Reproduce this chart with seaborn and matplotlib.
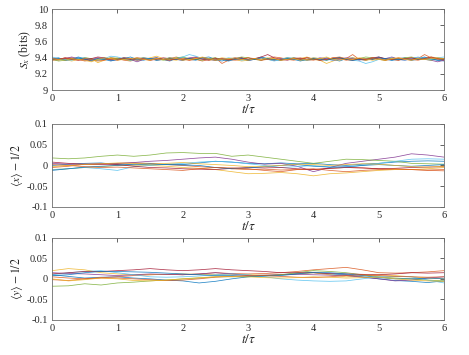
import numpy as np
import pandas as pd
import matplotlib
matplotlib.use('Agg')
import matplotlib.pyplot as plt
import seaborn as sns

# MATLAB default line colours (10 runs, order cycles)
colors = ['#0072BD', '#D95319', '#EDB120', '#7E2F8E', '#77AC30',
          '#4DBEEE', '#A2142F', '#0072BD', '#D95319', '#EDB120']

# entropy S_x (bits), t step 0.1
s_runs = [
    [9.39, 9.40, 9.37, 9.38, 9.41, 9.39, 9.36, 9.38, 9.40, 9.37, 9.38, 9.39, 9.41, 9.38, 9.37, 9.39, 9.40, 9.38, 9.36, 9.39, 9.40, 9.38, 9.37, 9.40, 9.41, 9.38, 9.36, 9.39, 9.38, 9.40, 9.37, 9.38, 9.41, 9.39, 9.37, 9.38, 9.40, 9.39, 9.37, 9.38, 9.39, 9.37, 9.40, 9.38, 9.36, 9.39, 9.40, 9.38, 9.37, 9.39, 9.41, 9.38, 9.37, 9.39, 9.40, 9.38, 9.39, 9.41, 9.38, 9.37, 9.36],
    [9.38, 9.37, 9.39, 9.40, 9.38, 9.36, 9.37, 9.39, 9.38, 9.40, 9.39, 9.37, 9.36, 9.38, 9.40, 9.39, 9.37, 9.38, 9.39, 9.41, 9.39, 9.37, 9.38, 9.36, 9.38, 9.40, 9.33, 9.37, 9.39, 9.38, 9.40, 9.38, 9.37, 9.39, 9.41, 9.40, 9.38, 9.37, 9.39, 9.40, 9.38, 9.37, 9.38, 9.40, 9.41, 9.39, 9.44, 9.38, 9.37, 9.39, 9.38, 9.37, 9.40, 9.39, 9.38, 9.37, 9.39, 9.44, 9.40, 9.38, 9.37],
    [9.37, 9.39, 9.38, 9.36, 9.38, 9.40, 9.39, 9.34, 9.37, 9.39, 9.40, 9.38, 9.37, 9.39, 9.38, 9.40, 9.42, 9.39, 9.38, 9.37, 9.39, 9.38, 9.40, 9.39, 9.37, 9.38, 9.40, 9.39, 9.38, 9.36, 9.37, 9.39, 9.40, 9.38, 9.37, 9.39, 9.40, 9.38, 9.39, 9.41, 9.38, 9.37, 9.33, 9.36, 9.39, 9.38, 9.40, 9.39, 9.37, 9.38, 9.40, 9.39, 9.38, 9.37, 9.39, 9.40, 9.38, 9.39, 9.41, 9.40, 9.38],
    [9.40, 9.38, 9.39, 9.41, 9.39, 9.37, 9.38, 9.40, 9.39, 9.37, 9.38, 9.40, 9.38, 9.35, 9.38, 9.39, 9.40, 9.38, 9.37, 9.39, 9.38, 9.40, 9.41, 9.39, 9.38, 9.37, 9.39, 9.38, 9.40, 9.39, 9.37, 9.38, 9.40, 9.38, 9.37, 9.39, 9.38, 9.40, 9.39, 9.37, 9.38, 9.40, 9.39, 9.37, 9.38, 9.40, 9.39, 9.37, 9.39, 9.38, 9.40, 9.39, 9.41, 9.38, 9.37, 9.39, 9.40, 9.38, 9.37, 9.35, 9.37],
    [9.38, 9.36, 9.37, 9.39, 9.38, 9.40, 9.39, 9.37, 9.38, 9.40, 9.39, 9.38, 9.37, 9.39, 9.40, 9.38, 9.39, 9.37, 9.38, 9.40, 9.41, 9.39, 9.38, 9.37, 9.39, 9.40, 9.38, 9.37, 9.39, 9.41, 9.40, 9.38, 9.37, 9.39, 9.38, 9.37, 9.39, 9.40, 9.38, 9.37, 9.38, 9.39, 9.37, 9.39, 9.40, 9.38, 9.37, 9.39, 9.41, 9.40, 9.38, 9.37, 9.39, 9.38, 9.40, 9.41, 9.39, 9.38, 9.37, 9.39, 9.38],
    [9.41, 9.39, 9.38, 9.37, 9.39, 9.40, 9.38, 9.37, 9.39, 9.42, 9.41, 9.39, 9.37, 9.38, 9.40, 9.39, 9.37, 9.38, 9.40, 9.39, 9.41, 9.44, 9.42, 9.39, 9.38, 9.37, 9.38, 9.40, 9.39, 9.37, 9.38, 9.39, 9.40, 9.38, 9.36, 9.38, 9.40, 9.39, 9.37, 9.38, 9.40, 9.39, 9.38, 9.37, 9.39, 9.38, 9.37, 9.36, 9.33, 9.35, 9.38, 9.39, 9.40, 9.38, 9.37, 9.39, 9.41, 9.39, 9.38, 9.40, 9.41],
    [9.39, 9.38, 9.40, 9.39, 9.37, 9.38, 9.39, 9.41, 9.40, 9.38, 9.37, 9.39, 9.38, 9.40, 9.39, 9.37, 9.38, 9.40, 9.39, 9.38, 9.37, 9.39, 9.40, 9.38, 9.37, 9.39, 9.38, 9.37, 9.39, 9.40, 9.38, 9.39, 9.41, 9.44, 9.40, 9.38, 9.37, 9.39, 9.38, 9.40, 9.39, 9.37, 9.38, 9.39, 9.40, 9.38, 9.37, 9.39, 9.38, 9.40, 9.41, 9.39, 9.38, 9.37, 9.39, 9.40, 9.38, 9.39, 9.41, 9.39, 9.38],
    [9.38, 9.39, 9.37, 9.38, 9.40, 9.38, 9.37, 9.39, 9.38, 9.36, 9.38, 9.40, 9.39, 9.37, 9.38, 9.39, 9.37, 9.38, 9.40, 9.38, 9.37, 9.39, 9.38, 9.40, 9.39, 9.37, 9.38, 9.36, 9.38, 9.39, 9.37, 9.38, 9.40, 9.39, 9.38, 9.37, 9.39, 9.38, 9.36, 9.38, 9.39, 9.38, 9.37, 9.39, 9.40, 9.38, 9.37, 9.38, 9.39, 9.38, 9.40, 9.39, 9.37, 9.38, 9.39, 9.37, 9.38, 9.40, 9.39, 9.37, 9.38],
    [9.37, 9.38, 9.40, 9.38, 9.37, 9.39, 9.38, 9.36, 9.37, 9.39, 9.38, 9.40, 9.39, 9.37, 9.38, 9.37, 9.39, 9.38, 9.37, 9.39, 9.38, 9.37, 9.39, 9.40, 9.38, 9.37, 9.39, 9.38, 9.37, 9.38, 9.40, 9.39, 9.37, 9.38, 9.39, 9.37, 9.38, 9.39, 9.40, 9.38, 9.37, 9.39, 9.38, 9.40, 9.39, 9.37, 9.38, 9.39, 9.38, 9.40, 9.39, 9.37, 9.38, 9.40, 9.39, 9.38, 9.37, 9.39, 9.40, 9.39, 9.38],
    [9.39, 9.38, 9.37, 9.39, 9.38, 9.37, 9.35, 9.38, 9.40, 9.39, 9.37, 9.38, 9.39, 9.40, 9.38, 9.37, 9.39, 9.38, 9.40, 9.39, 9.37, 9.38, 9.39, 9.41, 9.39, 9.37, 9.38, 9.39, 9.40, 9.38, 9.37, 9.39, 9.38, 9.40, 9.39, 9.37, 9.38, 9.39, 9.37, 9.38, 9.40, 9.39, 9.41, 9.38, 9.37, 9.39, 9.38, 9.40, 9.39, 9.37, 9.38, 9.37, 9.39, 9.40, 9.38, 9.37, 9.39, 9.38, 9.39, 9.40, 9.39],
]

# <x> - 1/2, t step 0.25
x_runs = [
    [0.000, 0.003, 0.005, 0.006, 0.002, 0.001, 0.003, 0.002, 0.002, 0.006, 0.010, 0.008, 0.005, 0.004, 0.006, 0.004, 0.005, 0.002, 0.000, 0.003, 0.005, 0.008, 0.010, 0.011, 0.010],
    [-0.005, -0.002, 0.003, 0.004, 0.005, 0.006, 0.005, 0.002, 0.000, -0.003, -0.005, -0.008, -0.010, -0.009, -0.011, -0.010, -0.010, -0.007, -0.005, -0.006, -0.008, -0.010, -0.010, -0.011, -0.010],
    [-0.010, -0.008, -0.005, -0.003, 0.000, 0.001, 0.000, -0.002, -0.005, -0.007, -0.010, -0.015, -0.020, -0.019, -0.017, -0.020, -0.025, -0.020, -0.018, -0.015, -0.012, -0.010, -0.010, -0.008, -0.005],
    [0.005, 0.003, 0.002, 0.004, 0.005, 0.007, 0.010, 0.012, 0.015, 0.018, 0.020, 0.015, 0.008, 0.003, 0.005, -0.002, -0.015, -0.005, 0.005, 0.010, 0.015, 0.020, 0.028, 0.025, 0.020],
    [0.018, 0.016, 0.018, 0.022, 0.025, 0.022, 0.025, 0.030, 0.031, 0.029, 0.029, 0.022, 0.025, 0.020, 0.015, 0.010, 0.005, 0.010, 0.015, 0.014, 0.012, 0.010, 0.005, 0.004, 0.003],
    [-0.010, -0.008, -0.005, -0.008, -0.012, -0.003, 0.000, 0.003, 0.005, 0.008, 0.010, 0.008, 0.004, 0.000, -0.005, -0.003, 0.000, -0.004, -0.005, 0.000, 0.005, 0.010, 0.015, 0.016, 0.015],
    [0.008, 0.005, 0.003, 0.002, 0.002, -0.002, -0.005, -0.006, -0.008, -0.009, -0.010, -0.007, -0.005, -0.006, -0.005, -0.008, -0.010, -0.007, -0.005, -0.006, -0.008, -0.007, -0.005, -0.004, -0.003],
    [-0.012, -0.008, -0.004, -0.002, 0.000, 0.003, 0.004, 0.002, 0.001, 0.000, -0.005, -0.008, -0.006, -0.003, 0.000, 0.002, -0.002, -0.004, -0.003, 0.000, 0.002, 0.000, -0.002, 0.000, 0.002],
    [0.002, 0.000, -0.003, -0.005, -0.004, -0.006, -0.008, -0.010, -0.012, -0.008, -0.005, -0.006, -0.008, -0.012, -0.015, -0.010, -0.008, -0.012, -0.015, -0.012, -0.010, -0.008, -0.010, -0.012, -0.013],
    [-0.003, 0.000, 0.002, 0.004, 0.006, 0.005, 0.003, 0.005, 0.007, 0.004, 0.002, 0.000, -0.003, -0.002, 0.000, 0.003, 0.002, 0.000, 0.002, 0.004, 0.003, 0.000, -0.003, -0.004, -0.002],
]

# <y> - 1/2, t step 0.25
y_runs = [
    [0.010, 0.006, 0.002, 0.004, 0.005, 0.002, 0.000, -0.003, -0.005, -0.010, -0.006, 0.000, 0.005, 0.008, 0.010, 0.013, 0.015, 0.012, 0.010, 0.005, 0.000, -0.004, -0.006, -0.009, -0.005],
    [0.005, 0.002, 0.000, 0.003, 0.005, 0.008, 0.010, 0.011, 0.010, 0.012, 0.015, 0.013, 0.012, 0.013, 0.015, 0.018, 0.022, 0.025, 0.028, 0.022, 0.015, 0.014, 0.015, 0.017, 0.020],
    [0.020, 0.025, 0.022, 0.015, 0.012, 0.010, 0.010, 0.011, 0.012, 0.011, 0.010, 0.010, 0.010, 0.009, 0.010, 0.012, 0.015, 0.010, 0.005, 0.007, 0.010, 0.008, 0.005, 0.002, 0.000],
    [0.015, 0.013, 0.012, 0.010, 0.008, 0.010, 0.012, 0.011, 0.010, 0.012, 0.015, 0.012, 0.008, 0.009, 0.010, 0.011, 0.010, 0.009, 0.008, 0.004, 0.000, -0.005, -0.003, 0.002, 0.005],
    [-0.018, -0.017, -0.012, -0.015, -0.010, -0.008, -0.005, -0.003, 0.000, 0.002, 0.005, 0.005, 0.005, 0.007, 0.010, 0.015, 0.020, 0.018, 0.015, 0.010, 0.005, 0.002, 0.000, -0.003, -0.005],
    [0.010, 0.015, 0.018, 0.020, 0.015, 0.010, 0.005, 0.004, 0.005, 0.007, 0.010, 0.012, 0.010, 0.005, 0.000, -0.003, -0.005, -0.006, -0.005, 0.000, 0.005, 0.006, 0.005, -0.003, -0.010],
    [0.012, 0.015, 0.018, 0.018, 0.020, 0.022, 0.025, 0.022, 0.020, 0.022, 0.025, 0.022, 0.020, 0.018, 0.015, 0.015, 0.015, 0.013, 0.012, 0.011, 0.010, 0.012, 0.015, 0.014, 0.015],
    [0.008, 0.010, 0.015, 0.018, 0.018, 0.017, 0.016, 0.014, 0.012, 0.010, 0.008, 0.008, 0.006, 0.007, 0.008, 0.012, 0.016, 0.015, 0.012, 0.008, 0.003, 0.000, 0.000, 0.002, 0.000],
    [-0.002, -0.004, 0.000, 0.002, 0.002, 0.000, -0.002, -0.004, -0.003, 0.000, 0.004, 0.006, 0.008, 0.008, 0.006, 0.004, 0.003, 0.005, 0.008, 0.010, 0.008, 0.006, 0.005, 0.004, 0.005],
    [0.000, -0.005, -0.002, 0.002, 0.000, -0.004, -0.005, -0.003, 0.000, 0.003, 0.005, 0.006, 0.005, 0.003, 0.002, 0.003, 0.005, 0.004, 0.002, 0.003, 0.004, 0.000, -0.003, -0.005, -0.006],
]

x_ticks = [0, 1, 2, 3, 4, 5, 6]
s_ticks = [9, 9.2, 9.4, 9.6, 9.8, 10]
s_ticklabels = ['9', '9.2', '9.4', '9.6', '9.8', '10']
m_ticks = [-0.1, -0.05, 0, 0.05, 0.1]
m_ticklabels = ['-0.1', '-0.05', '0', '0.05', '0.1']


def to_long(runs):
    frames = []
    for i, v in enumerate(runs):
        frames.append(pd.DataFrame({'t': np.linspace(0, 6, len(v)), 'v': v, 'run': i}))
    return pd.concat(frames, ignore_index=True)


sns.set_style('white')
plt.rcParams['font.family'] = ['Liberation Serif', 'DejaVu Serif']
plt.rcParams['mathtext.fontset'] = 'stix'
plt.rcParams['axes.unicode_minus'] = False

fig = plt.figure(figsize=(4.69, 3.55), dpi=100)
panels = [
    (s_runs, [0.111, 0.746, 0.836, 0.228], (9, 10), s_ticks, s_ticklabels, r'$S_x$ (bits)'),
    (x_runs, [0.111, 0.417, 0.836, 0.234], (-0.1, 0.1), m_ticks, m_ticklabels, r'$\langle x\rangle - 1/2$'),
    (y_runs, [0.111, 0.099, 0.836, 0.231], (-0.1, 0.1), m_ticks, m_ticklabels, r'$\langle y\rangle - 1/2$'),
]

for runs, rect, ylim, yt, ytl, ylab in panels:
    ax = fig.add_axes(rect)
    df = to_long(runs)
    sns.lineplot(data=df, x='t', y='v', hue='run', palette=colors,
                 legend=False, linewidth=0.55, alpha=0.85, ax=ax, estimator=None)
    ax.set_xlim(0, 6)
    ax.set_ylim(*ylim)
    ax.set_xticks(x_ticks)
    ax.set_xticklabels([str(t) for t in x_ticks])
    ax.set_yticks(yt)
    ax.set_yticklabels(ytl)
    ax.tick_params(direction='in', length=3, width=0.5, labelsize=7.5,
                   colors='#262626', top=True, right=True, pad=3)
    for sp in ax.spines.values():
        sp.set_color('#6e6e6e')
        sp.set_linewidth(0.6)
    ax.set_xlabel(r'$t/\tau$', fontsize=9.5, labelpad=0, color='#262626')
    ax.set_ylabel(ylab, fontsize=8.5, labelpad=1, color='#262626')

fig.savefig('out.png', dpi=100)
